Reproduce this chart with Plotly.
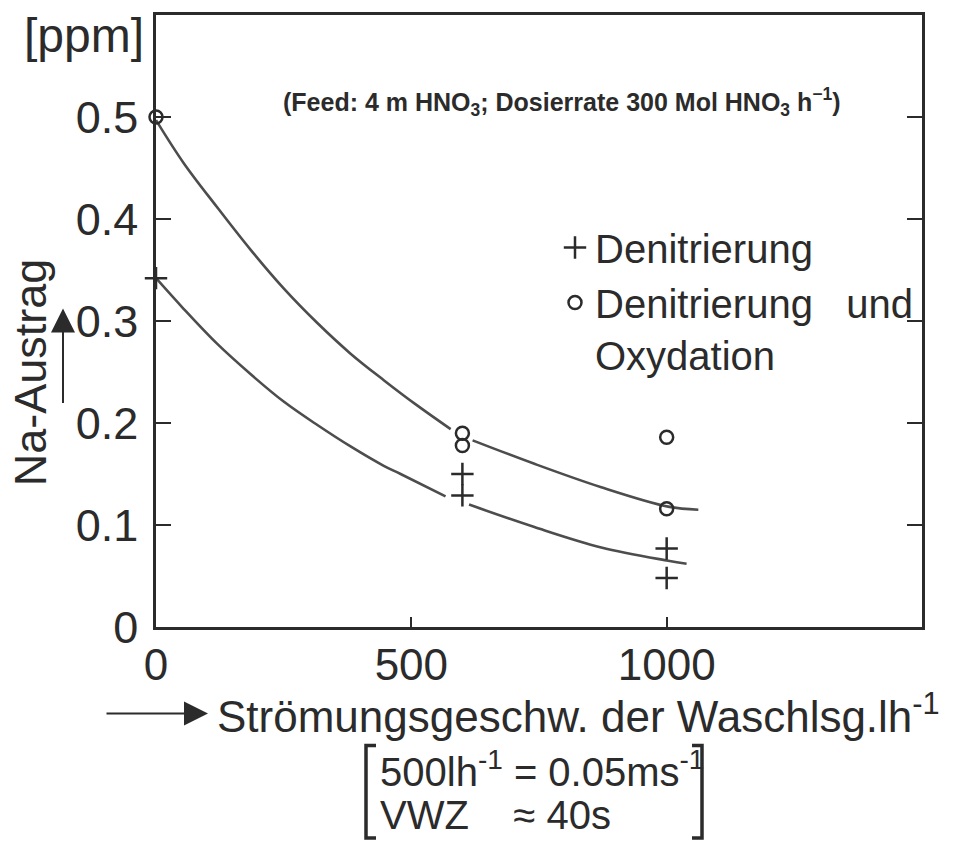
import plotly.graph_objects as go

# ---- data ----
x_denitr = [0, 600, 600, 1000, 1000]
y_denitr = [0.342, 0.150, 0.129, 0.077, 0.048]

x_oxyd = [0, 600, 600, 1000, 1000]
y_oxyd = [0.500, 0.190, 0.178, 0.186, 0.116]

# fitted curves as drawn in the reference (None = break around markers)
x_curve_up = [0, 54, 119, 185, 250, 316, 381, 446, 512, 577, None, 620, 741, 872, 1003, 1062]
y_curve_up = [0.497, 0.455, 0.412, 0.370, 0.332, 0.298, 0.268, 0.242, 0.217, 0.194, None,
              0.183, 0.160, 0.137, 0.118, 0.115]
x_curve_lo = [0, 54, 119, 185, 250, 316, 381, 446, 479, 567, None, 613, 741, 872, 1003, 1039]
y_curve_lo = [0.342, 0.312, 0.278, 0.248, 0.221, 0.198, 0.177, 0.158, 0.150, 0.128, None,
              0.120, 0.098, 0.078, 0.065, 0.062]

x_ticks = [0, 500, 1000]
x_ticklabels = ["0", "500", "1000"]
y_ticks = [0, 0.1, 0.2, 0.3, 0.4, 0.5]
y_ticklabels = ["0", "0.1", "0.2", "0.3", "0.4", "0.5"]

# ---- layout geometry ----
FW, FH = 970, 841
L, R, T, B = 156, 922, 12, 627
PW, PH = R - L, B - T


def px(xp, yp):
    return (xp - L) / PW, (B - yp) / PH


INK = "#2b2b2b"
CURVE = "#4d4d4d"
FONT = "Liberation Sans, Arial, sans-serif"
NB = "\u00a0"

fig = go.Figure()

fig.add_trace(go.Scatter(x=x_curve_up, y=y_curve_up, mode="lines", line=dict(color=CURVE, width=2.6, shape="spline"),
                         showlegend=False, hoverinfo="skip", connectgaps=False))
fig.add_trace(go.Scatter(x=x_curve_lo, y=y_curve_lo, mode="lines", line=dict(color=CURVE, width=2.6, shape="spline"),
                         showlegend=False, hoverinfo="skip", connectgaps=False))

fig.add_trace(go.Scatter(x=x_denitr, y=y_denitr, mode="markers", name="Denitrierung",
                         marker=dict(symbol="cross-thin", size=16, color=INK, line=dict(color=INK, width=2.5)),
                         cliponaxis=False))
fig.add_trace(go.Scatter(x=x_oxyd, y=y_oxyd, mode="markers", name="Denitrierung" + NB * 3 + "und<br>Oxydation",
                         marker=dict(symbol="circle-open", size=13, color=INK, line=dict(color=INK, width=2.5)),
                         cliponaxis=False))

annotations = []


def text(xp, yp, s, size, xanchor="center", family=FONT, angle=0, color=INK):
    ax, ay = px(xp, yp)
    annotations.append(dict(x=ax, y=ay, xref="paper", yref="paper", text=s, showarrow=False,
                            xanchor=xanchor, yanchor="middle", textangle=angle,
                            font=dict(family=family, size=size, color=color)))


text(84, 33, "[ppm]", 48)
text(562, 99, "<b>(Feed: 4 m HNO<sub>3</sub>; Dosierrate 300 Mol HNO<sub>3</sub> h<sup>−1</sup>)</b>", 25)
text(30, 371, "Na-Austrag", 45, angle=-90)
text(215, 714, "Strömungsgeschw. der Waschlsg.lh<sup>-1</sup>", 44, xanchor="left")
text(378, 770, "500lh<sup>-1</sup> = 0.05ms<sup>-1</sup>", 40, xanchor="left")
text(378, 816, "VWZ" + NB * 4 + "≈" + NB + "40s", 40, xanchor="left")

# arrows
hx, hy = px(63, 307)
annotations.append(dict(x=hx, y=hy, xref="paper", yref="paper", text="", showarrow=True,
                        ax=0, ay=96, arrowhead=2, arrowsize=2.4, arrowwidth=2, arrowcolor=INK))
hx, hy = px(208, 714)
annotations.append(dict(x=hx, y=hy, xref="paper", yref="paper", text="", showarrow=True,
                        ax=-103, ay=0, arrowhead=2, arrowsize=2.4, arrowwidth=2, arrowcolor=INK))

# brackets
shapes = []


def bracket(x0, x1, y0, y1):
    a0, b0 = px(x0, y0)
    a1, b1 = px(x1, y1)
    shapes.append(dict(type="path", xref="paper", yref="paper",
                       path=f"M {a1} {b0} L {a0} {b0} L {a0} {b1} L {a1} {b1}",
                       line=dict(color=INK, width=3.5)))


bracket(366, 376, 746, 839)
bracket(702, 692, 746, 839)

fig.update_layout(
    width=FW, height=FH,
    margin=dict(l=L, r=FW - R, t=T, b=FH - B, pad=0),
    paper_bgcolor="white", plot_bgcolor="white",
    font=dict(family=FONT, color=INK),
    showlegend=True,
    legend=dict(x=px(555, 0)[0], y=px(0, 213)[1], xanchor="left", yanchor="top",
                bgcolor="rgba(0,0,0,0)", font=dict(size=40, family=FONT, color=INK),
                valign="top", itemwidth=30, tracegroupgap=0),
    annotations=annotations,
    shapes=shapes,
)

fig.update_xaxes(range=[0, 1500], tickvals=x_ticks, ticktext=x_ticklabels,
                 ticks="inside", ticklen=10, tickwidth=2, tickcolor=INK,
                 showline=True, linecolor=INK, linewidth=2.5, mirror=True,
                 showgrid=False, zeroline=False, ticklabelstandoff=-3,
                 tickfont=dict(family=FONT, size=44, color=INK))
fig.update_yaxes(range=[0, 0.6], tickvals=y_ticks, ticktext=y_ticklabels,
                 ticks="inside", ticklen=15, tickwidth=2, tickcolor=INK,
                 showline=True, linecolor=INK, linewidth=2.5, mirror="ticks",
                 showgrid=False, zeroline=False, ticklabelstandoff=6,
                 tickfont=dict(family=FONT, size=45, color=INK))

fig.write_html("out.html")
